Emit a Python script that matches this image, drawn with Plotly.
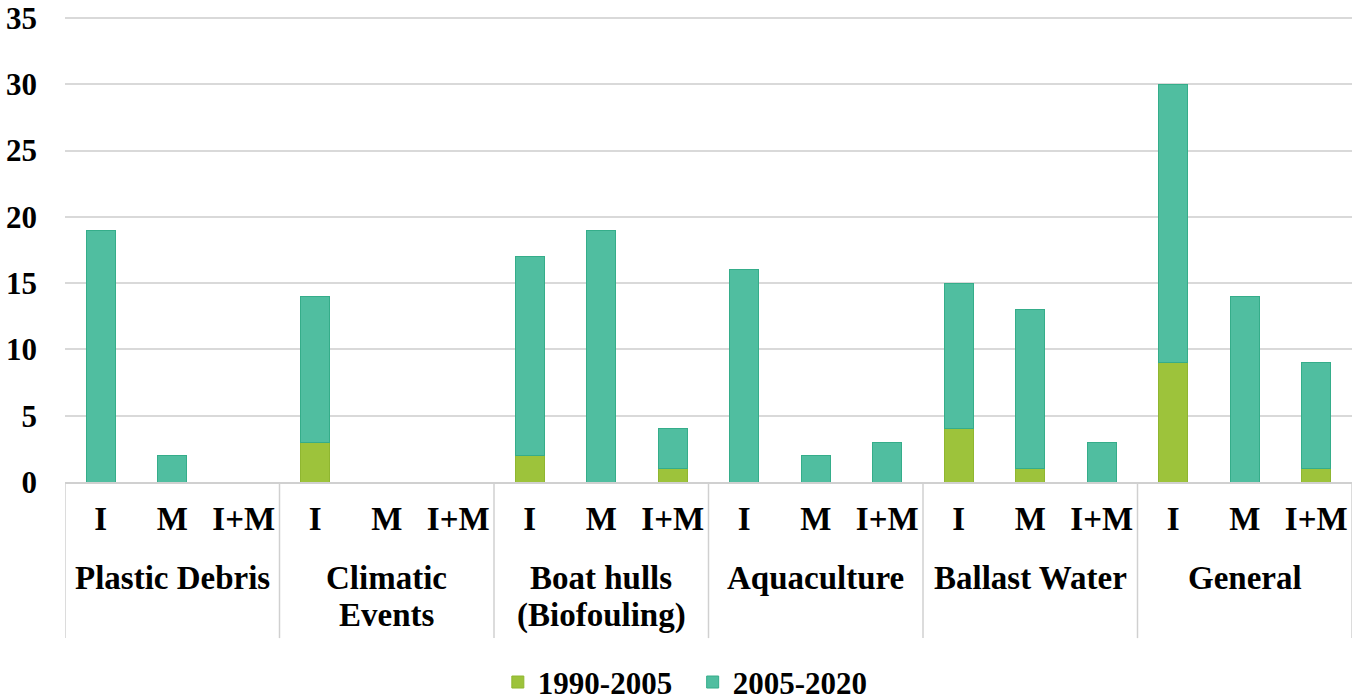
import plotly.graph_objects as go

# data
groups = ["Plastic Debris", "Climatic Events", "Boat hulls (Biofouling)",
          "Aquaculture", "Ballast Water", "General"]
group_lines = [["Plastic Debris"], ["Climatic", "Events"], ["Boat hulls", "(Biofouling)"],
               ["Aquaculture"], ["Ballast Water"], ["General"]]
subs = ["I", "M", "I+M"]
early = [0, 0, 0,  3, 0, 0,  2, 0, 1,  0, 0, 0,  4, 1, 0,  9, 0, 1]
late = [19, 2, 0,  11, 0, 0,  15, 19, 3,  16, 2, 3,  11, 12, 3,  21, 14, 8]
series_names = ["1990-2005", "2005-2020"]

cats = [g + "|" + s for g in groups for s in subs]
tick_text = [s for g in groups for s in subs]

FONT = "Times New Roman, Liberation Serif, serif"
FS = 33
fig = go.Figure()
fig.add_trace(go.Bar(x=cats, y=early, name="<b>" + series_names[0] + "</b>&nbsp;&nbsp;",
                     marker=dict(color="#9dc33b", line=dict(color="#8fb630", width=1))))
fig.add_trace(go.Bar(x=cats, y=late, name="<b>" + series_names[1] + "</b>",
                     marker=dict(color="#50bea0", line=dict(color="#35ad8a", width=1))))

# group dividers below the axis
for i in range(len(groups) + 1):
    fig.add_shape(type="line", xref="x", yref="paper",
                  x0=i * 3 - 0.5, x1=i * 3 - 0.5, y0=0, y1=-0.335,
                  line=dict(color="#d0d0d0", width=1.5))

# group labels
for i, lines in enumerate(group_lines):
    for j, txt in enumerate(lines):
        fig.add_annotation(x=i * 3 + 1, y=-0.206 - j * 0.08, xref="x", yref="paper",
                           text="<b>" + txt + "</b>", showarrow=False,
                           font=dict(family=FONT, size=FS, color="black"),
                           yanchor="middle")

fig.update_layout(
    barmode="stack",
    bargap=0.6,
    width=1357, height=700,
    margin=dict(l=65, r=5, t=16, b=218, autoexpand=False),
    plot_bgcolor="white", paper_bgcolor="white",
    font=dict(family=FONT, size=FS, color="black"),
    legend=dict(orientation="h", x=0.482, xanchor="center", y=-0.43, yanchor="middle",
                traceorder="normal", font=dict(family=FONT, size=31)),
    xaxis=dict(type="category", tickvals=cats, ticktext=["<b>" + t + "</b>" for t in tick_text],
               showline=True, linecolor="#d0d0d0", linewidth=1.5, showgrid=False,
               ticks="", ticklabelstandoff=7, tickfont=dict(family=FONT, size=FS),
               range=[-0.5, 17.5]),
    # a little headroom so the top gridline at 35 is not clipped away
    yaxis=dict(range=[0, 35.15], showgrid=True, gridcolor="#d9d9d9", gridwidth=1.5,
               zeroline=False, ticks="", ticklabelstandoff=27, ticklabeloverflow="allow",
               tickfont=dict(family=FONT, size=31),
               tickvals=[0, 5, 10, 15, 20, 25, 30, 35],
               ticktext=["<b>%d</b>" % v for v in range(0, 40, 5)]),
)

# drop the default 8px page margin so the figure fills the window
fig.write_html("out.html", config={"displayModeBar": False},
               post_script="document.body.style.margin='0';")
